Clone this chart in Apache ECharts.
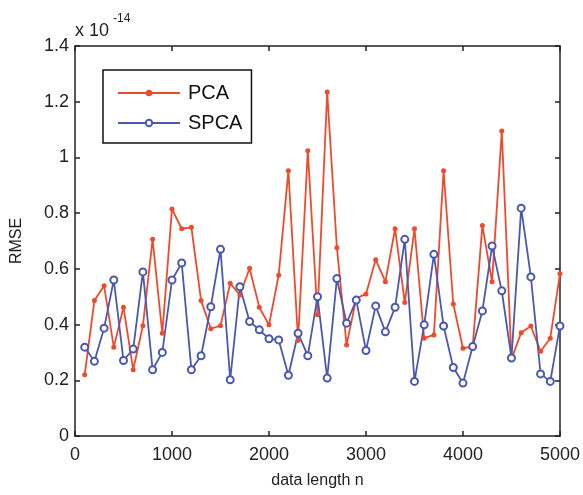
<!DOCTYPE html>
<html>
<head>
<meta charset="utf-8">
<script src="https://cdn.jsdelivr.net/npm/echarts@6/dist/echarts.min.js"></script>
<style>
html,body{margin:0;padding:0;background:#fff;}
#chart{width:583px;height:495px;}
</style>
</head>
<body>
<div id="chart"></div>
<script>
var dataLength = [100,200,300,400,500,600,700,800,900,1000,1100,1200,1300,1400,1500,1600,1700,1800,1900,2000,2100,2200,2300,2400,2500,2600,2700,2800,2900,3000,3100,3200,3300,3400,3500,3600,3700,3800,3900,4000,4100,4200,4300,4400,4500,4600,4700,4800,4900,5000];
var pcaRMSE = [0.22,0.486,0.539,0.319,0.462,0.238,0.396,0.706,0.369,0.815,0.744,0.749,0.486,0.385,0.396,0.548,0.506,0.602,0.462,0.399,0.577,0.952,0.343,1.024,0.435,1.235,0.676,0.327,0.494,0.51,0.633,0.554,0.744,0.479,0.744,0.351,0.363,0.952,0.474,0.315,0.321,0.756,0.554,1.095,0.276,0.371,0.395,0.304,0.351,0.583];
var spcaRMSE = [0.319,0.268,0.387,0.56,0.271,0.312,0.589,0.238,0.30,0.56,0.621,0.238,0.288,0.464,0.67,0.202,0.536,0.411,0.381,0.349,0.345,0.218,0.369,0.288,0.50,0.208,0.565,0.405,0.488,0.307,0.467,0.374,0.462,0.706,0.196,0.399,0.652,0.395,0.246,0.19,0.321,0.449,0.682,0.521,0.28,0.818,0.571,0.223,0.196,0.395];
var seriesNames = ['PCA','SPCA'];
var xTicks = [0,1000,2000,3000,4000,5000];
var yTicks = [0,0.2,0.4,0.6,0.8,1,1.2,1.4];

function pairs(xs, ys){ return xs.map(function(x,i){ return [x, ys[i]]; }); }

var font = "'Liberation Sans', Arial, sans-serif";
var chart = echarts.init(document.getElementById('chart'), null, {renderer:'canvas'});
var axisCommon = {
  axisLine:{show:true, onZero:false, lineStyle:{color:'#222', width:1.5}},
  axisTick:{show:true, inside:true, length:5, lineStyle:{color:'#222', width:1.5}},
  splitLine:{show:false}
};
chart.setOption({
  animation:false,
  backgroundColor:'#fff',
  grid:{left:75, right:21, top:46, bottom:59, containLabel:false},
  legend:{
    orient:'vertical', left:103, top:70,
    data:seriesNames,
    itemWidth:62, itemHeight:8, itemGap:10,
    padding:[13,9,10,14],
    borderColor:'#111', borderWidth:1.5, backgroundColor:'#fff',
    textStyle:{fontFamily:font, fontSize:20, color:'#111', padding:[0,0,0,3]}
  },
  xAxis:[
    Object.assign({type:'value', min:xTicks[0], max:xTicks[xTicks.length-1], interval:1000, position:'bottom',
      name:'data length n', nameLocation:'middle', nameGap:37,
      nameTextStyle:{fontFamily:font, fontSize:16, color:'#222'},
      axisLabel:{fontFamily:font, fontSize:18, color:'#222', margin:10,
        formatter:function(v){ return String(v); }}}, axisCommon),
    Object.assign({type:'value', min:xTicks[0], max:xTicks[xTicks.length-1], interval:1000, position:'top',
      axisLabel:{show:false}}, axisCommon)
  ],
  yAxis:[
    Object.assign({type:'value', min:yTicks[0], max:yTicks[yTicks.length-1], interval:0.2, position:'left',
      name:'RMSE', nameLocation:'middle', nameGap:50, nameRotate:90,
      nameTextStyle:{fontFamily:font, fontSize:16, color:'#222'},
      axisLabel:{fontFamily:font, fontSize:18, color:'#222', margin:6}}, axisCommon),
    Object.assign({type:'value', min:yTicks[0], max:yTicks[yTicks.length-1], interval:0.2, position:'right',
      axisLabel:{show:false}}, axisCommon)
  ],
  graphic:[
    {type:'text', left:75, top:22, style:{text:'x 10', font:'18px ' + font, fill:'#222'}},
    {type:'text', left:113, top:13, style:{text:'-14', font:'12px ' + font, fill:'#222'}}
  ],
  series:[
    {name:seriesNames[0], type:'line', xAxisIndex:0, yAxisIndex:0,
     data:pairs(dataLength, pcaRMSE),
     symbol:'circle', symbolSize:5,
     lineStyle:{color:'#ef4a2c', width:1.8},
     itemStyle:{color:'#ef4a2c'}},
    {name:seriesNames[1], type:'line', xAxisIndex:0, yAxisIndex:0,
     data:pairs(dataLength, spcaRMSE),
     symbol:'emptyCircle', symbolSize:7,
     lineStyle:{color:'#4b58b0', width:1.8},
     itemStyle:{color:'#4b58b0', borderColor:'#4b58b0', borderWidth:1.5}}
  ]
});
</script>
</body>
</html>
